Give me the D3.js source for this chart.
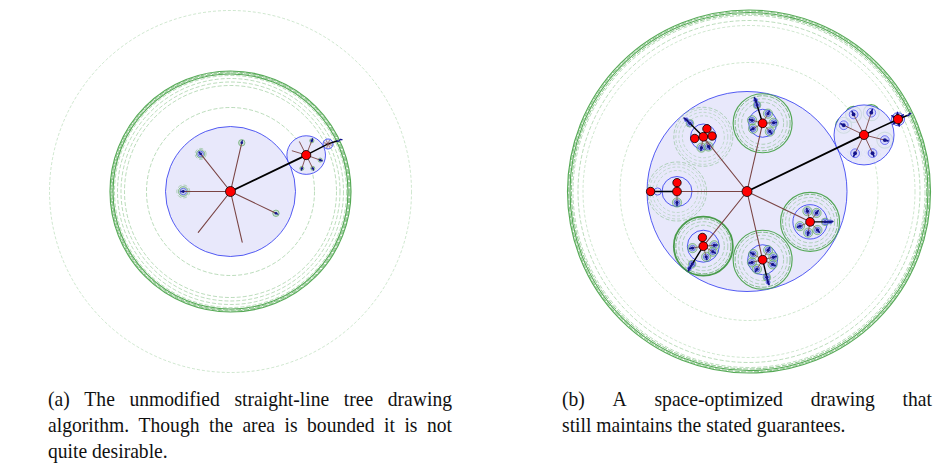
<!DOCTYPE html>
<html>
<head>
<meta charset="utf-8">
<script src="https://cdn.jsdelivr.net/npm/d3@7"></script>
<style>
  html, body { margin: 0; background: #fff; }
  svg { display: block; }
</style>
</head>
<body>
<svg id="fig" width="935" height="472"></svg>
<script>
// ---------------------------------------------------------------
// Tree drawings inside nested disks.  Angles in degrees (0 = east,
// clockwise on screen), distances and radii in layout units.
// ---------------------------------------------------------------

// Panel (a): unmodified straight-line drawing
const aCenter = [230.5, 191.5];
const aRootDisk = 65;
const aRingRadii = [181, 120.5, 119.5, 118.5, 117.5, 116, 113, 109.5, 106, 84];
const aRingKind  = ["faint", "thick", "mid", "mid", "thick", "dash", "dash", "dash", "dash", "dash"];
const aLeafAngle = [-128.5, -77, 180, 25.6, 128.3, 77];
const aLeafDist  = [48, 50, 47.2, 50.4, 52, 52];
const aLeafHalo  = [5.5, 3.2, 6.5, 3.2, 0, 0];
const aHeavyAngle = [-25.7, -27, -18];
const aHeavyDist  = [84, 24.5, 9.5];
const aHeavyDisk  = [19.3, 5, 0];
const aSubAngle = [-116.7, -68.6, -163, 19.7, 108, 63.6];
const aSubDist  = [14.9, 15.4, 14.6, 14.9, 14, 14.8];
const aSubDot   = [0, 1.3, 0, 1.3, 1.2, 1.2];

// Panel (b): space-optimized drawing
const bCenter = [747, 191.5];
const bRingShift = 2;
const bRootDisk = 100;
const bRingRadii = [181.5, 180.3, 179, 177.5, 176, 171, 166, 129];
const bRingKind  = ["thick", "mid", "thick", "mid", "dash", "dash", "faint", "faint"];
const bKidAngle = [-77.1, -128.6, 180, 128.6, 77.1, 25.7];
const bKidDist  = [70, 70, 70, 70, 70, 70];
const bKidDisk  = [14, 12.8, 15, 16, 15, 17.2];
const bKidTone  = ["mid", "faint", "faint", "dark", "mid", "mid"];
const bKidRings = [29.5, 27.5, 24.5, 21];
const bKidHeavyAngle = [-107, -135, 180, 122, 76.5, 0];
const bKidHeavyDist  = [24, 24, 26.4, 26, 23, 20];
const bKidHeavyRed   = [false, false, true, false, false, false];
const bKidReds = [[], [169, -66, -5], [-90], [-96], [], []];
const bKidRedDist = 8.8;
const bGrandAngles = [
  [-164, -61, -3, 49, 150],
  [100, 62],
  [90],
  [170, -5, 30, 75],
  [-149, 166, 121, -60, -13, 25],
  [-104, -54, 157, 100, 48]
];
const bGrandDist = 11;
const bHeavyAngle = [-25.8, -24.8, -22];
const bHeavyDist  = [130, 37.4, 10];
const bHeavyDisk  = [30, 6.5, 0];
const bHeavyKidAngle = [-117, -72, -154.5, 14, 116, 65];
const bHeavyKidDist  = [23, 23.4, 22.5, 21.4, 20.4, 20.1];
const bHeavyKidTone  = ["mid", "mid", "mid", "mid", "faint", "faint"];

// Captions
const capA = ["(a) The unmodified straight-line tree drawing",
              "algorithm. Though the area is bounded it is not",
              "quite desirable."];
const capB = ["(b) A space-optimized drawing that",
              "still maintains the stated guarantees."];

// ---------------------------------------------------------------
const svg = d3.select("#fig");
const rad = d => d * Math.PI / 180;
const polar = (p, ang, dist) => [p[0] + dist * Math.cos(rad(ang)), p[1] + dist * Math.sin(rad(ang))];

const ringStyles = {
  thick: { stroke: "#42a042", width: 1.15, opacity: 0.9, dash: null },
  heavy: { stroke: "#379237", width: 1.8, opacity: 0.9, dash: null },
  mid:   { stroke: "#4fa54f", width: 0.85, opacity: 0.78, dash: "5,1.5" },
  dash:  { stroke: "#62ae62", width: 0.7, opacity: 0.62, dash: "4,2" },
  faint: { stroke: "#6cb66c", width: 0.6, opacity: 0.55, dash: "3,2" }
};
const toneKinds = {
  dark:  ["heavy", "mid", "dash", "dash"],
  mid:   ["thick", "mid", "dash", "dash"],
  faint: ["dash", "faint", "faint", "faint"]
};
const EDGE = "#7a4444", NAVY = "#14148c", BLUE = "#2a33f0", DISK = "#e4e4fa";

function makePanel(center) {
  const x = d3.scaleLinear().domain([-200, 200]).range([center[0] - 200, center[0] + 200]);
  const y = d3.scaleLinear().domain([-200, 200]).range([center[1] - 200, center[1] + 200]);
  const k = x(1) - x(0);
  const g = svg.append("g");
  const layers = {};
  ["ring", "disk", "subring", "subdisk", "halo", "edge", "node"].forEach(n => layers[n] = g.append("g"));
  return { x, y, k, layers };
}

function ring(P, layer, p, r, kind) {
  const s = ringStyles[kind];
  P.layers[layer].append("circle")
    .attr("cx", P.x(p[0])).attr("cy", P.y(p[1])).attr("r", r * P.k)
    .attr("fill", "none").attr("stroke", s.stroke).attr("stroke-width", s.width)
    .attr("stroke-opacity", s.opacity).attr("stroke-dasharray", s.dash);
}
function disk(P, layer, p, r, w) {
  P.layers[layer].append("circle")
    .attr("cx", P.x(p[0])).attr("cy", P.y(p[1])).attr("r", r * P.k)
    .attr("fill", DISK).attr("fill-opacity", 0.85)
    .attr("stroke", BLUE).attr("stroke-width", w || 0.8);
}
function edge(P, a, b, heavy, w) {
  P.layers.edge.append("line")
    .attr("x1", P.x(a[0])).attr("y1", P.y(a[1])).attr("x2", P.x(b[0])).attr("y2", P.y(b[1]))
    .attr("stroke", heavy ? "#000" : EDGE).attr("stroke-width", w || (heavy ? 1.8 : 1))
    .attr("stroke-linecap", "round");
}
function redNode(P, p, r) {
  P.layers.node.append("circle")
    .attr("cx", P.x(p[0])).attr("cy", P.y(p[1])).attr("r", r * P.k)
    .attr("fill", "#ff0000").attr("stroke", "#000").attr("stroke-width", 0.8);
}
// small leaf cluster: green halo, blue rim, dark blob with a short tail
function blob(P, p, ang, halo, rim, core) {
  if (halo > 0) {
    P.layers.halo.append("circle")
      .attr("cx", P.x(p[0])).attr("cy", P.y(p[1])).attr("r", halo * P.k)
      .attr("fill", "#8fc98f").attr("fill-opacity", 0.35)
      .attr("stroke", "#4a9a4a").attr("stroke-width", 0.7).attr("stroke-opacity", 0.8);
  }
  if (rim > 0) {
    P.layers.halo.append("circle")
      .attr("cx", P.x(p[0])).attr("cy", P.y(p[1])).attr("r", rim * P.k)
      .attr("fill", "#c9ccf6").attr("fill-opacity", 0.7)
      .attr("stroke", BLUE).attr("stroke-width", 0.6);
  }
  if (core > 0) {
    const t = polar(p, ang, core * 1.7);
    P.layers.node.append("line")
      .attr("x1", P.x(p[0])).attr("y1", P.y(p[1])).attr("x2", P.x(t[0])).attr("y2", P.y(t[1]))
      .attr("stroke", NAVY).attr("stroke-width", core * 0.9).attr("stroke-linecap", "round");
    P.layers.node.append("circle")
      .attr("cx", P.x(p[0])).attr("cy", P.y(p[1])).attr("r", core * P.k).attr("fill", NAVY);
  }
}
// trailing squiggle of ever smaller pieces along a direction
function tail(P, p, ang, len, w) {
  const pts = d3.range(0, 1.01, 0.25).map(f => polar(p, ang + 25 * Math.sin(f * 6), f * len));
  P.layers.node.append("path")
    .attr("d", d3.line().x(d => P.x(d[0])).y(d => P.y(d[1])).curve(d3.curveBasis)(pts))
    .attr("fill", "none").attr("stroke", NAVY).attr("stroke-width", w || 1.5).attr("stroke-linecap", "round");
}

// ---------------------------- panel (a)
(function () {
  const P = makePanel(aCenter);
  const root = [0, 0];
  aRingRadii.forEach((r, i) => ring(P, "ring", root, r, aRingKind[i]));
  disk(P, "disk", root, aRootDisk);

  aLeafAngle.forEach((a, i) => {
    const p = polar(root, a, aLeafDist[i]);
    edge(P, root, p, false, 1.1);
    const h = aLeafHalo[i];
    if (h > 4) {
      ring(P, "subring", p, h, "dash");
      blob(P, p, a, h * 0.75, h * 0.5, 1.4);
    } else if (h > 0) {
      blob(P, p, a, h, 0, 1.3);
    }
  });

  let cur = root;
  const heavyPts = aHeavyAngle.map((a, i) => {
    const p = polar(cur, a, aHeavyDist[i]);
    edge(P, cur, p, true, i === 0 ? 1.9 : 1.4);
    if (aHeavyDisk[i] > 0) disk(P, "subdisk", p, aHeavyDisk[i]);
    cur = p;
    return p;
  });
  const h1 = heavyPts[0];
  aSubAngle.forEach((a, i) => {
    const p = polar(h1, a, aSubDist[i]);
    edge(P, h1, p, false, 0.9);
    if (aSubDot[i] > 0) blob(P, p, a, aSubDot[i] + 0.8, 0, aSubDot[i]);
  });
  const h2 = heavyPts[1];
  aSubAngle.forEach(a => edge(P, h2, polar(h2, a, 3.8), false, 0.7));
  tail(P, heavyPts[2], aHeavyAngle[2] + 10, 5, 1.4);
  redNode(P, root, 5);
  redNode(P, h1, 4.6);
})();

// ---------------------------- panel (b)
(function () {
  const P = makePanel(bCenter);
  const root = [0, 0];
  const rc = [bRingShift, 0];
  bRingRadii.forEach((r, i) => ring(P, "ring", rc, r, bRingKind[i]));
  disk(P, "disk", root, bRootDisk);

  bKidAngle.forEach((a, i) => {
    const p = polar(root, a, bKidDist[i]);
    edge(P, root, p, false, 1.1);
    toneKinds[bKidTone[i]].forEach((kind, j) => ring(P, "subring", p, bKidRings[j], kind));
    disk(P, "subdisk", p, bKidDisk[i]);
    bGrandAngles[i].forEach(ga => {
      const q = polar(p, ga, bGrandDist);
      edge(P, p, q, false, 0.8);
      blob(P, q, ga, 4.6, 2.8, 1.7);
    });
    bKidReds[i].forEach(ra => {
      const q = polar(p, ra, bKidRedDist);
      edge(P, p, q, true, 1.3);
      redNode(P, q, 4.2);
    });
    const hq = polar(p, bKidHeavyAngle[i], bKidHeavyDist[i]);
    edge(P, p, hq, true, 1.4);
    if (bKidHeavyRed[i]) {
      disk(P, "subdisk", polar(p, bKidHeavyAngle[i], bKidHeavyDist[i] - 7), 3.6, 0.7);
      redNode(P, hq, 4.2);
    } else {
      const hm = polar(p, bKidHeavyAngle[i], bKidHeavyDist[i] - 5);
      blob(P, hm, bKidHeavyAngle[i], 3.8, 2.8, 1.7);
      blob(P, hq, bKidHeavyAngle[i], 0, 2, 1.4);
      tail(P, hq, bKidHeavyAngle[i], 3, 1.3);
    }
    redNode(P, p, 4.4);
  });

  let cur = root;
  const heavyPts = bHeavyAngle.map((a, i) => {
    const p = polar(cur, a, bHeavyDist[i]);
    edge(P, cur, p, true, i === 0 ? 1.9 : 1.5);
    if (bHeavyDisk[i] > 0) disk(P, "subdisk", p, bHeavyDisk[i]);
    cur = p;
    return p;
  });
  const h1 = heavyPts[0];
  bHeavyKidAngle.forEach((a, i) => {
    const q = polar(h1, a, bHeavyKidDist[i]);
    edge(P, h1, q, false, 0.9);
    ring(P, "subring", q, 8, bHeavyKidTone[i] === "mid" ? "thick" : "faint");
    ring(P, "subring", q, 6.3, "dash");
    blob(P, q, a, 0, 4.4, 1.9);
  });
  const h2 = heavyPts[1];
  [-150, -95, -40, 80, 135].forEach(a => blob(P, polar(h2, a, 5), a, 0, 0, 1.3));
  tail(P, heavyPts[2], bHeavyAngle[2], 4, 1.5);
  redNode(P, root, 5);
  redNode(P, h1, 4.6);
  redNode(P, h2, 4.6);
})();

// ---------------------------- captions (justified, narrow serif face)
(function () {
  const font = "Liberation Serif, Times New Roman, serif";
  const fs = 22;
  const sx = 19.6 / fs;   // horizontally condensed face
  const probe = svg.append("text").attr("font-family", font).attr("font-size", fs);
  const measure = s => { probe.text(s); return probe.node().getComputedTextLength(); };

  function block(lines, x0, width, baselines) {
    lines.forEach((line, i) => {
      const words = line.split(" ");
      const last = i === lines.length - 1;
      const g = svg.append("g").attr("transform", `translate(${x0},${baselines[i]}) scale(${sx},1)`);
      const t = g.append("text").attr("font-family", font).attr("font-size", fs).attr("fill", "#111");
      if (last) { t.attr("x", 0).text(line); return; }
      const widths = words.map(measure);
      const gap = (width / sx - d3.sum(widths)) / (words.length - 1);
      let xx = 0;
      words.forEach((w, j) => { t.append("tspan").attr("x", xx).text(w); xx += widths[j] + gap; });
    });
  }
  block(capA, 48, 404, [406, 432, 458]);
  block(capB, 562, 370, [406, 432]);
  probe.remove();
})();
</script>
</body>
</html>
